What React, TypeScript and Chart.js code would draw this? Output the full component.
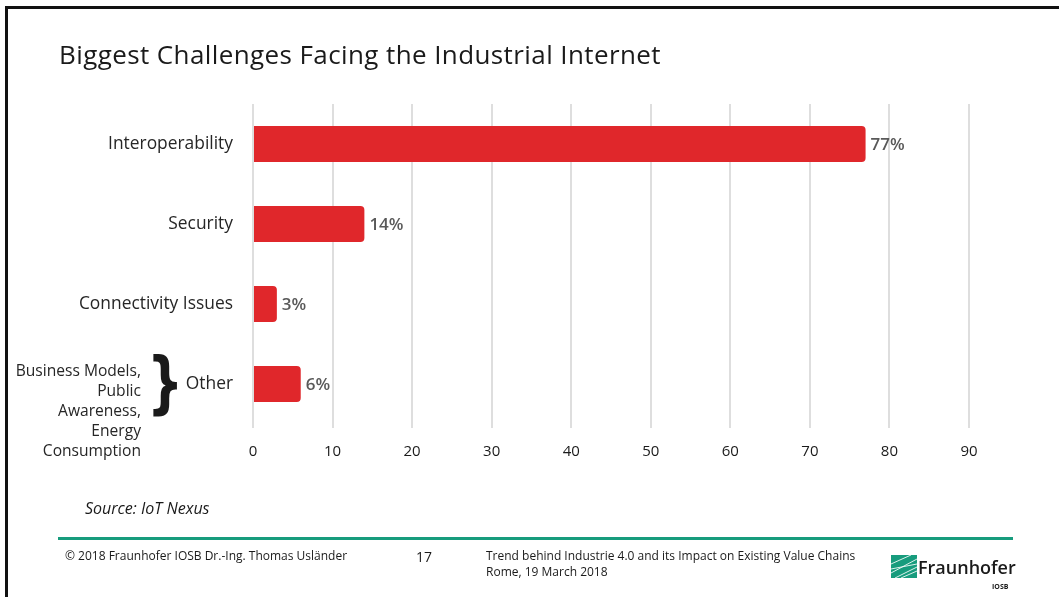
import React, { useEffect, useRef } from "react";
import { Chart, registerables } from "chart.js";

Chart.register(...registerables);

const categories = ["Interoperability", "Security", "Connectivity Issues", "Other"];
const values = [77, 14, 3, 6];
const xTicks = [0, 10, 20, 30, 40, 50, 60, 70, 80, 90];
const otherNote = ["Business Models,", "Public", "Awareness,", "Energy", "Consumption"];

const FONT = "'Open Sans', 'Noto Sans', sans-serif";

const valueLabels = {
  id: "valueLabels",
  afterDatasetsDraw(chart: any) {
    const ctx = chart.ctx;
    const meta = chart.getDatasetMeta(0);
    ctx.save();
    ctx.font = `600 17px ${FONT}`;
    ctx.fillStyle = "#595959";
    ctx.textAlign = "left";
    ctx.textBaseline = "middle";
    meta.data.forEach((bar: any, i: number) => {
      ctx.fillText(`${values[i]}%`, bar.x + 5, bar.y + 1);
    });
    ctx.restore();
  },
};

function BarChart() {
  const ref = useRef<HTMLCanvasElement | null>(null);
  useEffect(() => {
    if (!ref.current) return;
    const chart = new Chart(ref.current, {
      type: "bar",
      data: {
        labels: categories,
        datasets: [
          {
            data: values,
            backgroundColor: "#e0272b",
            borderRadius: 4,
            barPercentage: 0.45,
            categoryPercentage: 1,
          },
        ],
      },
      options: {
        indexAxis: "y",
        animation: false,
        responsive: false,
        layout: { padding: { left: 0, right: 90, top: 104, bottom: 133 } },
        plugins: { legend: { display: false }, tooltip: { enabled: false } },
        scales: {
          x: {
            min: 0,
            max: 90,
            afterFit: (s: any) => {
              s.height = 40;
            },
            border: { display: false },
            grid: { color: "#dedede", lineWidth: 2, tickLength: 4, drawTicks: true },
            ticks: {
              stepSize: 10,
              padding: 15,
              color: "#1a1a1a",
              font: { family: FONT, size: 15 },
              callback: (v: any) => (xTicks.includes(Number(v)) ? String(v) : ""),
            },
          },
          y: {
            afterFit: (s: any) => {
              s.width = 253;
            },
            border: { display: false },
            grid: { display: false, drawTicks: false },
            ticks: {
              padding: 20,
              color: "#262626",
              font: { family: FONT, size: 17.4 },
            },
          },
        },
      },
      plugins: [valueLabels],
    });
    return () => chart.destroy();
  }, []);
  return <canvas ref={ref} width={1059} height={597} style={{ position: "absolute", left: 0, top: 0 }} />;
}

export default function App() {
  const abs = (o: React.CSSProperties): React.CSSProperties => ({ position: "absolute", margin: 0, whiteSpace: "nowrap", ...o });
  return (
    <div style={{ position: "absolute", left: 0, top: 0, width: 1059, height: 597, background: "#fff", overflow: "hidden", fontFamily: FONT }}>
      <div style={abs({ left: 5, top: 6, width: 1060, height: 600, borderTop: "3px solid #111", borderLeft: "3px solid #111", boxSizing: "border-box" })} />
      <BarChart />
      <div style={abs({ left: 59, top: 36, fontSize: 26, letterSpacing: 0.4, color: "#1a1a1a", lineHeight: "36px" })}>
        Biggest Challenges Facing the Industrial Internet
      </div>
      <div style={abs({ left: 0, width: 141, top: 360, textAlign: "right", fontSize: 15.6, lineHeight: "20px", color: "#262626" })}>
        {otherNote.map((t, i) => (
          <div key={i}>{t}</div>
        ))}
      </div>
      <div style={abs({ left: 141, top: 343, fontSize: 68, fontWeight: 700, lineHeight: "80px", color: "#1a1a1a", fontFamily: "'DejaVu Sans', sans-serif", transform: "scaleX(0.75)" })}>
        {"}"}
      </div>
      <div style={abs({ left: 85, top: 497, fontSize: 16, fontStyle: "italic", color: "#1a1a1a", lineHeight: "22px" })}>
        Source: IoT Nexus
      </div>
      <div style={abs({ left: 58, top: 537, width: 955, height: 3, background: "#179c7d" })} />
      <div style={abs({ left: 65, top: 548, fontSize: 12, color: "#1a1a1a", lineHeight: "16px" })}>
        © 2018 Fraunhofer IOSB Dr.-Ing. Thomas Usländer
      </div>
      <div style={abs({ left: 416, top: 547, fontSize: 14, color: "#1a1a1a", lineHeight: "20px" })}>17</div>
      <div style={abs({ left: 486, top: 548, fontSize: 12, color: "#1a1a1a", lineHeight: "16px" })}>
        <div>Trend behind Industrie 4.0 and its Impact on Existing Value Chains</div>
        <div>Rome, 19 March 2018</div>
      </div>
      <svg style={abs({ left: 891, top: 555, width: 26, height: 23 })} viewBox="0 0 26 23">
        <rect x="0" y="0" width="26" height="23" fill="#179c7d" />
        <path d="M0 18 L26 4 M0 14 L26 9 M4 23 L26 12 M10 23 L26 16 M0 9 L20 0" stroke="#ffffff" strokeWidth="1" opacity="0.85" fill="none" />
      </svg>
      <div style={abs({ left: 918, top: 554, fontSize: 18, fontWeight: 600, color: "#1a1a1a", lineHeight: "26px" })}>
        Fraunhofer
      </div>
      <div style={abs({ left: 992, top: 582, fontSize: 7, fontWeight: 700, color: "#1a1a1a", lineHeight: "10px" })}>IOSB</div>
    </div>
  );
}
